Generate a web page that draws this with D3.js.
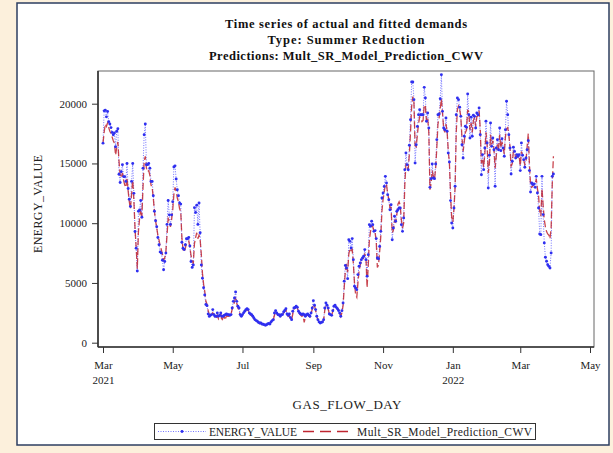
<!DOCTYPE html>
<html>
<head>
<meta charset="utf-8">
<title>Time series of actual and fitted demands</title>
<script src="https://cdnjs.cloudflare.com/ajax/libs/d3/7.8.5/d3.min.js"></script>
<style>
  body { margin: 0; background: #fcf0dc; }
  svg { display: block; font-family: "Liberation Serif", "Times New Roman", serif; }
  .tick text { font-family: "Liberation Serif", "Times New Roman", serif; font-size: 11px; fill: #222; }
  .tick line { stroke: #333; }
</style>
</head>
<body>
<svg width="613" height="453"></svg>
<script>
// one value per gas flow day, starting at startDay
var startDay = "2021-03-01";

var actual = [
  16700, 19400, 19450, 18900, 19350, 18500, 18300, 18000, 17600, 17400,
  17550, 16400, 17700, 17900, 14100, 13400, 14300, 14900, 13900, 13900,
  13500, 15000, 12900, 12000, 11400, 13500, 15000, 12500, 9300, 7900,
  6000, 11000, 11100, 11900, 10500, 14600, 17400, 18300, 14900, 14900,
  15000, 14600, 13500, 13500, 12300, 11000, 10200, 9700, 8800, 8200,
  7600, 7500, 6900, 6100, 6800, 7500, 9900, 11900, 10700, 9900,
  10700, 11800, 14700, 14800, 13700, 12800, 12300, 11700, 11600, 8400,
  7900, 7800, 8200, 8700, 8700, 8800, 8100, 6800, 6300, 6500,
  11300, 10900, 11500, 9900, 11700, 9200, 6500, 5400, 4600, 4000,
  3200, 3100, 2400, 2200, 2300, 2350, 2770, 2350, 2210, 2210,
  2490, 2210, 2290, 2490, 2210, 2210, 2290, 2350, 2400, 2350,
  2350, 2300, 2350, 2900, 3460, 3740, 4240, 3460, 3050, 2900,
  2350, 2210, 2350, 2500, 2630, 2770, 2850, 2770, 2490, 2400,
  2350, 2210, 2070, 1930, 1850, 1790, 1700, 1650, 1650, 1570,
  1550, 1510, 1460, 1500, 1570, 1620, 1570, 1740, 1850, 1930,
  2490, 2680, 2490, 2350, 2350, 2210, 2350, 2350, 2570, 2700,
  2850, 2400, 2290, 2400, 2100, 1930, 2630, 2900, 2950, 3050,
  2960, 2630, 2490, 2400, 2350, 2400, 2350, 2210, 2350, 2400,
  2300, 2210, 2490, 2900, 3520, 3130, 2770, 2210, 1930, 1740,
  1650, 1700, 1740, 1930, 2900, 3320, 3130, 2900, 2400, 2350,
  2290, 2680, 3050, 3130, 2960, 2850, 2700, 2490, 2210, 2680,
  3320, 5140, 6470, 6250, 5360, 8620, 8480, 7930, 8710, 6950,
  4720, 4580, 4440, 5700, 6400, 6670, 6950, 7100, 7230, 7790,
  6950, 5560, 7370, 9880, 9740, 10160, 9880, 9320, 9380, 8710,
  7090, 7030, 8060, 9320, 12110, 12530, 13080, 13920, 13360, 12390,
  11970, 11130, 11550, 8620, 9600, 10580, 10160, 10990, 11130, 11270,
  11270, 9880, 9320, 10440, 14480, 15870, 14900, 14480, 16520, 18660,
  21820, 21820, 20340, 15040, 16570, 18100, 19080, 19500, 19080, 19080,
  19080, 21370, 20480, 18530, 19220, 17970, 13000, 13730, 14950, 13780,
  13730, 14950, 16990, 19080, 19140, 20420, 22430, 19360, 17970, 17830,
  18800, 17690, 15870, 15120, 11890, 10020, 9600, 11270, 13090, 19080,
  20480, 20340, 19700, 18940, 16570, 15460, 17270, 18110, 18020, 20810,
  19080, 17130, 18860, 17270, 19030, 18940, 17970, 19220, 19080, 19640,
  17410, 14060, 15740, 14480, 16290, 18530, 16710, 12950, 15680, 18390,
  16430, 17130, 16150, 13090, 16290, 16990, 16150, 17970, 16070, 17070,
  16290, 15600, 17830, 20200, 19080, 17410, 16290, 14120, 15180, 16350,
  16010, 15460, 15740, 15600, 15740, 14400, 16710, 15680, 15320, 14680,
  15460, 16150, 16910, 14400, 12610, 13370, 13230, 13280, 13000, 13920,
  12530, 11270, 9100, 9040, 13920, 10720, 8350, 7150, 6810, 6530,
  6390, 6250, 7510, 13920, 14120
];

var fitted = [
  16700, 17600, 18300, 18100, 18400, 18000, 17700, 17500, 17200, 16900,
  16700, 15700, 16300, 16800, 15200, 14000, 13800, 14200, 13600, 13200,
  13000, 13800, 12700, 11800, 11200, 12400, 13600, 11900, 9600, 8000,
  6200, 9300, 10400, 11200, 10600, 13000, 15200, 15600, 14600, 14300,
  14400, 14000, 13200, 13000, 12100, 11000, 10200, 9600, 9000, 8600,
  8100, 7800, 7400, 6900, 7100, 7600, 9000, 10400, 10200, 9700,
  10300, 11100, 12400, 13000, 12700, 12100, 11800, 11200, 11000, 8800,
  7800, 7600, 7900, 8300, 8400, 8500, 8000, 7300, 6900, 6600,
  8300, 8800, 9200, 8700, 9000, 8600, 7400, 5800, 4900, 4300,
  3500, 3200, 2700, 2300, 2200, 2300, 2500, 2400, 2100, 2000,
  2300, 2000, 2200, 2400, 1800, 2100, 2200, 1900, 2300, 2200,
  2200, 2300, 2400, 2800, 3100, 3400, 3700, 3300, 2900, 2700,
  2300, 2200, 2300, 2400, 2600, 2700, 2800, 2700, 2500, 2300,
  2300, 2200, 2000, 1900, 1800, 1750, 1700, 1600, 1650, 1550,
  1500, 1500, 1450, 1500, 1550, 1600, 1600, 1700, 1800, 1950,
  2300, 2600, 2500, 2300, 2300, 2200, 2250, 2300, 2500, 2650,
  2750, 2450, 2200, 2300, 2000, 1900, 2400, 2800, 2900, 3000,
  2900, 2600, 2400, 2300, 2200, 2300, 1700, 2100, 2300, 2300,
  2250, 2150, 2400, 2800, 3200, 3100, 2700, 2200, 1900, 1750,
  1650, 1700, 1750, 1900, 2700, 3100, 3100, 2800, 2400, 2300,
  2300, 2600, 2900, 3100, 3000, 2900, 2800, 2500, 2200, 2500,
  3100, 4600, 6000, 6600, 5900, 7400, 7900, 7700, 7800, 6600,
  5000, 4000, 3800, 5000, 6000, 6500, 6800, 6900, 7100, 7400,
  7200, 4600, 6400, 8600, 9300, 9800, 9700, 9300, 9200, 8500,
  6300, 6500, 7600, 8900, 11000, 12000, 12600, 13300, 13200, 12500,
  12000, 11300, 11300, 9200, 9400, 10200, 10100, 10700, 11600, 11800,
  11500, 10300, 9600, 10000, 13200, 15000, 14700, 14500, 15800, 17600,
  19800, 20600, 20100, 16500, 16400, 17400, 18300, 18900, 18700, 18500,
  18600, 19900, 19800, 18500, 18800, 17600, 12800, 13300, 14400, 13900,
  13700, 14600, 16300, 18300, 18800, 19600, 20400, 19200, 17900, 17600,
  18300, 17700, 16100, 15100, 12500, 10500, 10100, 11200, 13000, 17600,
  19500, 19800, 19500, 18900, 17200, 16000, 16800, 17600, 17800, 19500,
  19300, 17800, 18400, 17600, 18600, 18800, 18100, 18900, 19000, 19400,
  17900, 15000, 15400, 14700, 15800, 17600, 16600, 14200, 15000, 17400,
  16600, 16900, 16200, 14600, 15600, 16600, 16200, 17400, 16300, 16800,
  16300, 15800, 17200, 17900, 18000, 17400, 16400, 14800, 15000, 16000,
  15900, 15500, 15600, 15500, 15600, 14800, 16000, 15700, 15300, 14900,
  15200, 16400, 17500, 15000, 13200, 13000, 13100, 13300, 13200, 13700,
  12900, 12300, 11000, 10600, 12900, 11500, 10300, 9700, 9300, 9100,
  9000, 8700, 9600, 13300, 15600
];

var yTicks = [0, 5000, 10000, 15000, 20000];
var xTicks = ["2021-03-01", "2021-05-01", "2021-07-01", "2021-09-01",
              "2021-11-01", "2022-01-01", "2022-03-01", "2022-05-01"];
var xMonthLabels = ["Mar", "May", "Jul", "Sep", "Nov", "Jan", "Mar", "May"];
var xYearLabels = ["2021", "", "", "", "", "2022", "", ""];
var titles = ["Time series of actual and fitted demands",
              "Type: Summer Reduction",
              "Predictions: Mult_SR_Model_Prediction_CWV"];
var seriesNames = ["ENERGY_VALUE", "Mult_SR_Model_Prediction_CWV"];

var parse = d3.timeParse("%Y-%m-%d");
var start = parse(startDay);

var svg = d3.select("svg");

// page frame
svg.append("rect").attr("width", 613).attr("height", 453).attr("fill", "#fcf0dc");
svg.append("rect")
    .attr("x", 17).attr("y", 3).attr("width", 592).attr("height", 442)
    .attr("fill", "#fff")
    .attr("stroke", "#2c3e60").attr("stroke-width", 1.5);

var plot = {left: 98, top: 71, right: 594, bottom: 347};

var x = d3.scaleTime()
    .domain([parse("2021-03-01"), parse("2022-05-01")])
    .range([103, 590]);

var y = d3.scaleLinear()
    .domain([0, 20000])
    .range([342.7, 103.7]);

var rows = actual.map(function(v, i) {
  return {date: d3.timeDay.offset(start, i), actual: v, fitted: fitted[i]};
});

// titles
var titleY = [28, 44, 60];
var titleLen = [242, 157, 274];
svg.selectAll(".title")
    .data(titles)
  .enter().append("text")
    .attr("class", "title")
    .attr("x", 346)
    .attr("y", function(d, i) { return titleY[i]; })
    .attr("text-anchor", "middle")
    .attr("font-size", 12.5)
    .attr("font-weight", "bold")
    .attr("fill", "#111")
    .attr("textLength", function(d, i) { return titleLen[i]; })
    .text(function(d) { return d; });

// plot border
svg.append("rect")
    .attr("x", plot.left).attr("y", plot.top)
    .attr("width", plot.right - plot.left).attr("height", plot.bottom - plot.top)
    .attr("fill", "none")
    .attr("stroke", "#666").attr("stroke-width", 1);

// axes
var gy = svg.append("g")
    .attr("transform", "translate(" + plot.left + ",0)")
    .call(d3.axisLeft(y).tickValues(yTicks).tickSize(6).tickPadding(5).tickFormat(d3.format("d")));
gy.attr("font-family", null);
gy.select(".domain").remove();

var gx = svg.append("g")
    .attr("transform", "translate(0," + plot.bottom + ")")
    .call(d3.axisBottom(x)
      .tickValues(xTicks.map(parse))
      .tickSize(6).tickPadding(8)
      .tickFormat(function(d, i) { return xMonthLabels[i]; }));
gx.attr("font-family", null);
gx.select(".domain").remove();
gx.selectAll(".tick").append("text")
    .attr("y", 37)
    .attr("fill", "#222")
    .attr("text-anchor", "middle")
    .text(function(d, i) { return xYearLabels[i]; });

svg.append("line")
    .attr("x1", plot.left).attr("x2", plot.left)
    .attr("y1", plot.top).attr("y2", plot.bottom)
    .attr("stroke", "#333").attr("stroke-width", 1.6);
svg.append("line")
    .attr("x1", plot.left).attr("x2", plot.right)
    .attr("y1", plot.bottom).attr("y2", plot.bottom)
    .attr("stroke", "#333").attr("stroke-width", 1.6);

// axis labels
svg.append("text")
    .attr("transform", "translate(42,204) rotate(-90)")
    .attr("text-anchor", "middle")
    .attr("font-size", 12)
    .attr("fill", "#222")
    .attr("textLength", 98)
    .text("ENERGY_VALUE");

svg.append("text")
    .attr("x", 347).attr("y", 409)
    .attr("text-anchor", "middle")
    .attr("font-size", 13)
    .attr("fill", "#222")
    .attr("textLength", 109)
    .text("GAS_FLOW_DAY");

// series
var actualLine = d3.line()
    .x(function(d) { return x(d.date); })
    .y(function(d) { return y(d.actual); });

var fittedLine = d3.line()
    .x(function(d) { return x(d.date); })
    .y(function(d) { return y(d.fitted); });

svg.append("path")
    .datum(rows)
    .attr("d", actualLine)
    .attr("fill", "none")
    .attr("stroke", "#7373ff")
    .attr("stroke-width", 1)
    .attr("stroke-dasharray", "1,1.5");

svg.append("path")
    .datum(rows)
    .attr("d", fittedLine)
    .attr("fill", "none")
    .attr("stroke", "#bf2530")
    .attr("stroke-width", 1.3)
    .attr("stroke-opacity", 0.85)
    .attr("stroke-dasharray", "7,3");

svg.append("g")
  .selectAll("circle")
    .data(rows)
  .enter().append("circle")
    .attr("cx", function(d) { return x(d.date); })
    .attr("cy", function(d) { return y(d.actual); })
    .attr("r", 1.45)
    .attr("fill", "#2f2ff0");

// legend
var legend = svg.append("g");
legend.append("rect")
    .attr("x", 154.5).attr("y", 423.5).attr("width", 381).attr("height", 16)
    .attr("fill", "#fff").attr("stroke", "#333").attr("stroke-width", 1);

legend.append("line")
    .attr("x1", 158).attr("x2", 206).attr("y1", 431.5).attr("y2", 431.5)
    .attr("stroke", "#7373ff").attr("stroke-width", 1).attr("stroke-dasharray", "1,1.5");
legend.append("circle")
    .attr("cx", 182).attr("cy", 431.5).attr("r", 1.45).attr("fill", "#2f2ff0");
legend.append("line")
    .attr("x1", 303).attr("x2", 349).attr("y1", 431.5).attr("y2", 431.5)
    .attr("stroke", "#bf2530").attr("stroke-width", 1.3).attr("stroke-dasharray", "11,6");

var legendX = [209, 357];
var legendLen = [88, 175];
legend.selectAll("text")
    .data(seriesNames)
  .enter().append("text")
    .attr("x", function(d, i) { return legendX[i]; })
    .attr("y", 435.5)
    .attr("font-size", 11.5)
    .attr("fill", "#222")
    .attr("textLength", function(d, i) { return legendLen[i]; })
    .text(function(d) { return d; });
</script>
</body>
</html>
